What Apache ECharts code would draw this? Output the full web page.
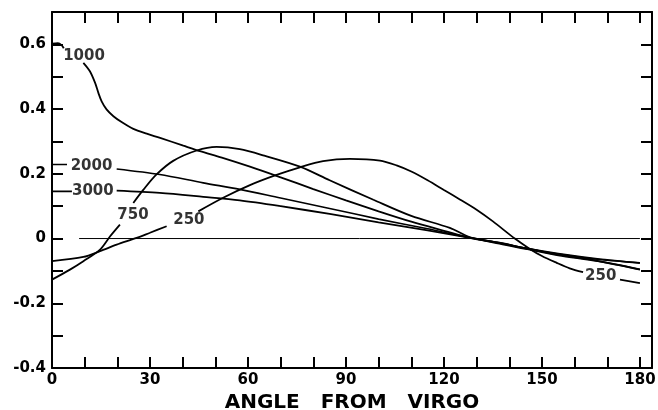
<!DOCTYPE html>
<html>
<head>
<meta charset="utf-8">
<script src="https://cdn.jsdelivr.net/npm/echarts@6/dist/echarts.min.js"></script>
<style>
html, body { margin: 0; padding: 0; background: #fff; }
#chart { width: 658px; height: 410px; }
</style>
</head>
<body>
<div id="chart"></div>
<script>
// curves, [angle, dv/v]; [x,'-'] breaks the line where a label sits
const curve1000 = [[0,0.602],[1.8,0.604],[3,0.597],[3.6,0.588],[7,'-'],[9.6,0.543],[11.6,0.517],[13.2,0.481],[14.2,0.45],[15.2,0.424],[16.7,0.399],[18.8,0.378],[21.3,0.36],[24.9,0.339],[29,0.324],[33.1,0.311],[40.2,0.287],[45.3,0.27],[52,0.25],[60.6,0.222],[70,0.189],[80,0.153],[90,0.118],[100,0.084],[110,0.052],[120,0.024],[128,0.002],[137,-0.014],[145,-0.03],[155,-0.05],[167,-0.069],[180,-0.095]];
const curve750 = [[0,-0.127],[5.5,-0.096],[9.6,-0.07],[14.7,-0.034],[17.8,0.007],[20.8,0.043],[23,'-'],[24.9,0.11],[28,0.151],[32,0.198],[37.1,0.24],[44.3,0.272],[50.4,0.283],[57.5,0.276],[65,0.256],[75.9,0.222],[85,0.18],[98.4,0.12],[110,0.07],[121.8,0.033],[128,0.004],[137,-0.016],[145,-0.032],[155,-0.052],[167,-0.07],[180,-0.096]];
const curve2000 = [[0,0.229],[4.6,0.229],[10,'-'],[19.8,0.215],[33,0.198],[46.3,0.172],[57.5,0.152],[70,0.125],[85,0.093],[100,0.06],[115,0.03],[128,0.003],[137,-0.013],[145,-0.03],[155,-0.048],[167,-0.064],[180,-0.075]];
const curve3000 = [[0,0.146],[6.1,0.146],[10,'-'],[19.8,0.148],[33,0.141],[46.3,0.129],[57.5,0.118],[70,0.1],[85,0.076],[100,0.05],[115,0.025],[128,0.002],[137,-0.013],[145,-0.03],[155,-0.047],[167,-0.063],[180,-0.076]];
const curve250 = [[0,-0.07],[9.6,-0.057],[14.7,-0.039],[19.8,-0.019],[25.9,0.002],[30,0.018],[35.1,0.038],[40,'-'],[44.8,0.084],[52.4,0.126],[60.6,0.165],[68.3,0.195],[75.9,0.22],[83,0.239],[91.2,0.246],[100.4,0.241],[105.5,0.226],[110,0.207],[115,0.18],[120,0.15],[125,0.12],[130,0.089],[135,0.053],[141.7,0],[146.3,-0.032],[150,-0.054],[154.5,-0.075],[158.5,-0.092],[162.6,-0.104],[168,'-'],[173.9,-0.127],[180,-0.138]];
const zeroLine = [[8.3,0],[180,0]];
// curve labels: text and where it sits
const labelNames = ['1000','2000','3000','750','250','250'];
const labelPos = [[9.8,0.563],[12.1,0.224],[12.5,0.146],[24.8,0.071],[41.9,0.056],[168,-0.117]];

const xTicks = [0,30,60,90,120,150,180];

var myChart = echarts.init(document.getElementById('chart'));
var font = 'DejaVu Sans';

function lineSeries(name, data, w){
    return {
        name: name,
        type: 'line',
        data: data,
        showSymbol: false,
        smooth: 0.3,
        connectNulls: false,
        lineStyle: { color: '#000', width: w },
        silent: true,
        z: 3
    };
}

var labelData = [];
for (var i = 0; i < labelNames.length; i++){
    labelData.push({ name: labelNames[i], value: labelPos[i] });
}

var tickCommon = {
    show: true,
    inside: true,
    length: 11,
    lineStyle: { color: '#000', width: 2 }
};
var lineCommon = { show: true, onZero: false, lineStyle: { color: '#000', width: 2 } };

var option = {
    backgroundColor: '#fff',
    animation: false,
    grid: { left: 52, right: 6, top: 12, bottom: 42, containLabel: false, outerBoundsMode: 'none' },
    xAxis: [
        {
            type: 'value', min: 0, max: 183.7, interval: 10, position: 'bottom',
            name: 'ANGLE   FROM   VIRGO', nameLocation: 'middle', nameGap: 18,
            nameTextStyle: { color: '#000', fontSize: 20, fontWeight: 'bold', fontFamily: font },
            axisLine: lineCommon, axisTick: tickCommon, splitLine: { show: false },
            axisLabel: {
                color: '#000', fontSize: 15, fontWeight: 'bold', fontFamily: font, margin: 5,
                formatter: function (v) { return xTicks.indexOf(Math.round(v)) >= 0 && Math.abs(v - Math.round(v)) < 1e-6 ? String(v) : ''; }
            }
        },
        {
            type: 'value', min: 0, max: 183.7, interval: 10, position: 'top',
            axisLine: lineCommon, axisTick: tickCommon, splitLine: { show: false },
            axisLabel: { show: false }
        }
    ],
    yAxis: [
        {
            type: 'value', min: -0.4, max: 0.7, interval: 0.1, position: 'left',
            name: 'Δ v/v', nameLocation: 'middle', nameGap: 32,
            nameTextStyle: { color: '#000', fontSize: 15, fontWeight: 'bold', fontFamily: font },
            axisLine: lineCommon, axisTick: tickCommon, splitLine: { show: false },
            axisLabel: {
                color: '#000', fontSize: 15, fontWeight: 'bold', fontFamily: font, margin: 6,
                formatter: function (v) {
                    var k = Math.round(v * 10);
                    if (k % 2 !== 0 || k > 6) return '';
                    return k === 0 ? '0' : (k / 10).toFixed(1);
                }
            }
        },
        {
            type: 'value', min: -0.4, max: 0.7, interval: 0.1, position: 'right',
            axisLine: lineCommon, axisTick: tickCommon, splitLine: { show: false },
            axisLabel: { show: false }
        }
    ],
    series: [
        {
            name: 'zero', type: 'line', data: zeroLine, showSymbol: false, silent: true,
            lineStyle: { color: '#000', width: 1 }, z: 2
        },
        lineSeries('1000', curve1000, 1.8),
        lineSeries('750', curve750, 1.8),
        lineSeries('2000', curve2000, 1.6),
        lineSeries('3000', curve3000, 1.8),
        lineSeries('250', curve250, 1.8),
        {
            name: 'labels', type: 'scatter', data: labelData, symbolSize: 0, silent: true,
            label: {
                show: true, position: 'inside', color: '#000',
                textBorderWidth: 0, fontSize: 15, fontWeight: 'bold', fontFamily: font,
                formatter: function (p) { return p.name; }
            },
            z: 5
        }
    ]
};

myChart.setOption(option);
</script>
</body>
</html>
